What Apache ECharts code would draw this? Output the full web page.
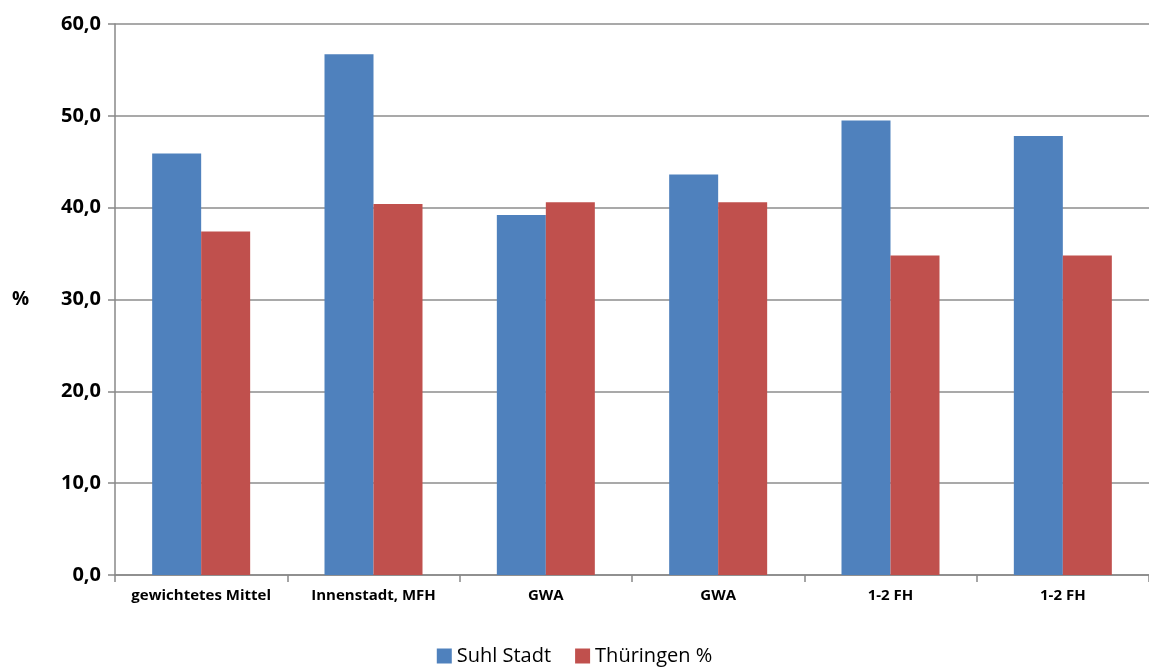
<!DOCTYPE html>
<html><head><meta charset="utf-8">
<script src="https://cdn.jsdelivr.net/npm/echarts@6/dist/echarts.min.js"></script>
<style>html,body{margin:0;padding:0;background:#fff;overflow:hidden}#c{width:1149px;height:671px}</style>
</head><body><div id="c"></div>
<script>
const categories = ["gewichtetes Mittel", "Innenstadt, MFH", "GWA", "GWA", "1-2 FH", "1-2 FH"];
const suhlStadt = [45.9, 56.7, 39.2, 43.6, 49.5, 47.8];
const thueringen = [37.4, 40.4, 40.6, 40.6, 34.8, 34.8];
const seriesNames = ["Suhl Stadt", "Thüringen %"];

const chart = echarts.init(document.getElementById('c'));
const font = '"Open Sans", "Liberation Sans", sans-serif';
chart.setOption({
  animation: false,
  textStyle: { fontFamily: font },
  grid: { left: 115, right: -5, top: 24, bottom: 96 },
  legend: {
    bottom: 0, left: 'center', itemWidth: 15, itemHeight: 15, itemGap: 24,
    icon: 'rect',
    textStyle: { fontSize: 20, color: '#000', fontFamily: font },
    data: seriesNames
  },
  xAxis: {
    type: 'category', data: categories,
    axisLine: { lineStyle: { color: '#888', width: 1.5 } },
    axisTick: { show: true, length: 7, lineStyle: { color: '#888', width: 1.5 } },
    axisLabel: { interval: 0, fontSize: 15, fontWeight: 'bold', color: '#000', margin: 13, fontFamily: font }
  },
  yAxis: {
    type: 'value', min: 0, max: 60, interval: 10,
    name: '%', nameLocation: 'middle', nameGap: 86, nameRotate: 0,
    nameTextStyle: { fontSize: 19, fontWeight: 'bold', color: '#000', fontFamily: font },
    axisLine: { show: true, lineStyle: { color: '#888', width: 1.5 } },
    axisTick: { show: true, length: 7, lineStyle: { color: '#888', width: 1.5 } },
    splitLine: { lineStyle: { color: '#8c8c8c', width: 1.5 } },
    axisLabel: { fontSize: 20, fontWeight: 'bold', color: '#000', margin: 14, fontFamily: font,
      formatter: v => v.toFixed(1).replace('.', ',') }
  },
  series: [
    { name: seriesNames[0], type: 'bar', data: suhlStadt, barWidth: 49, barGap: '0%',
      itemStyle: { color: '#4f81bd' } },
    { name: seriesNames[1], type: 'bar', data: thueringen, barWidth: 49, barGap: '0%',
      itemStyle: { color: '#c0504d' } }
  ]
});
</script></body></html>
